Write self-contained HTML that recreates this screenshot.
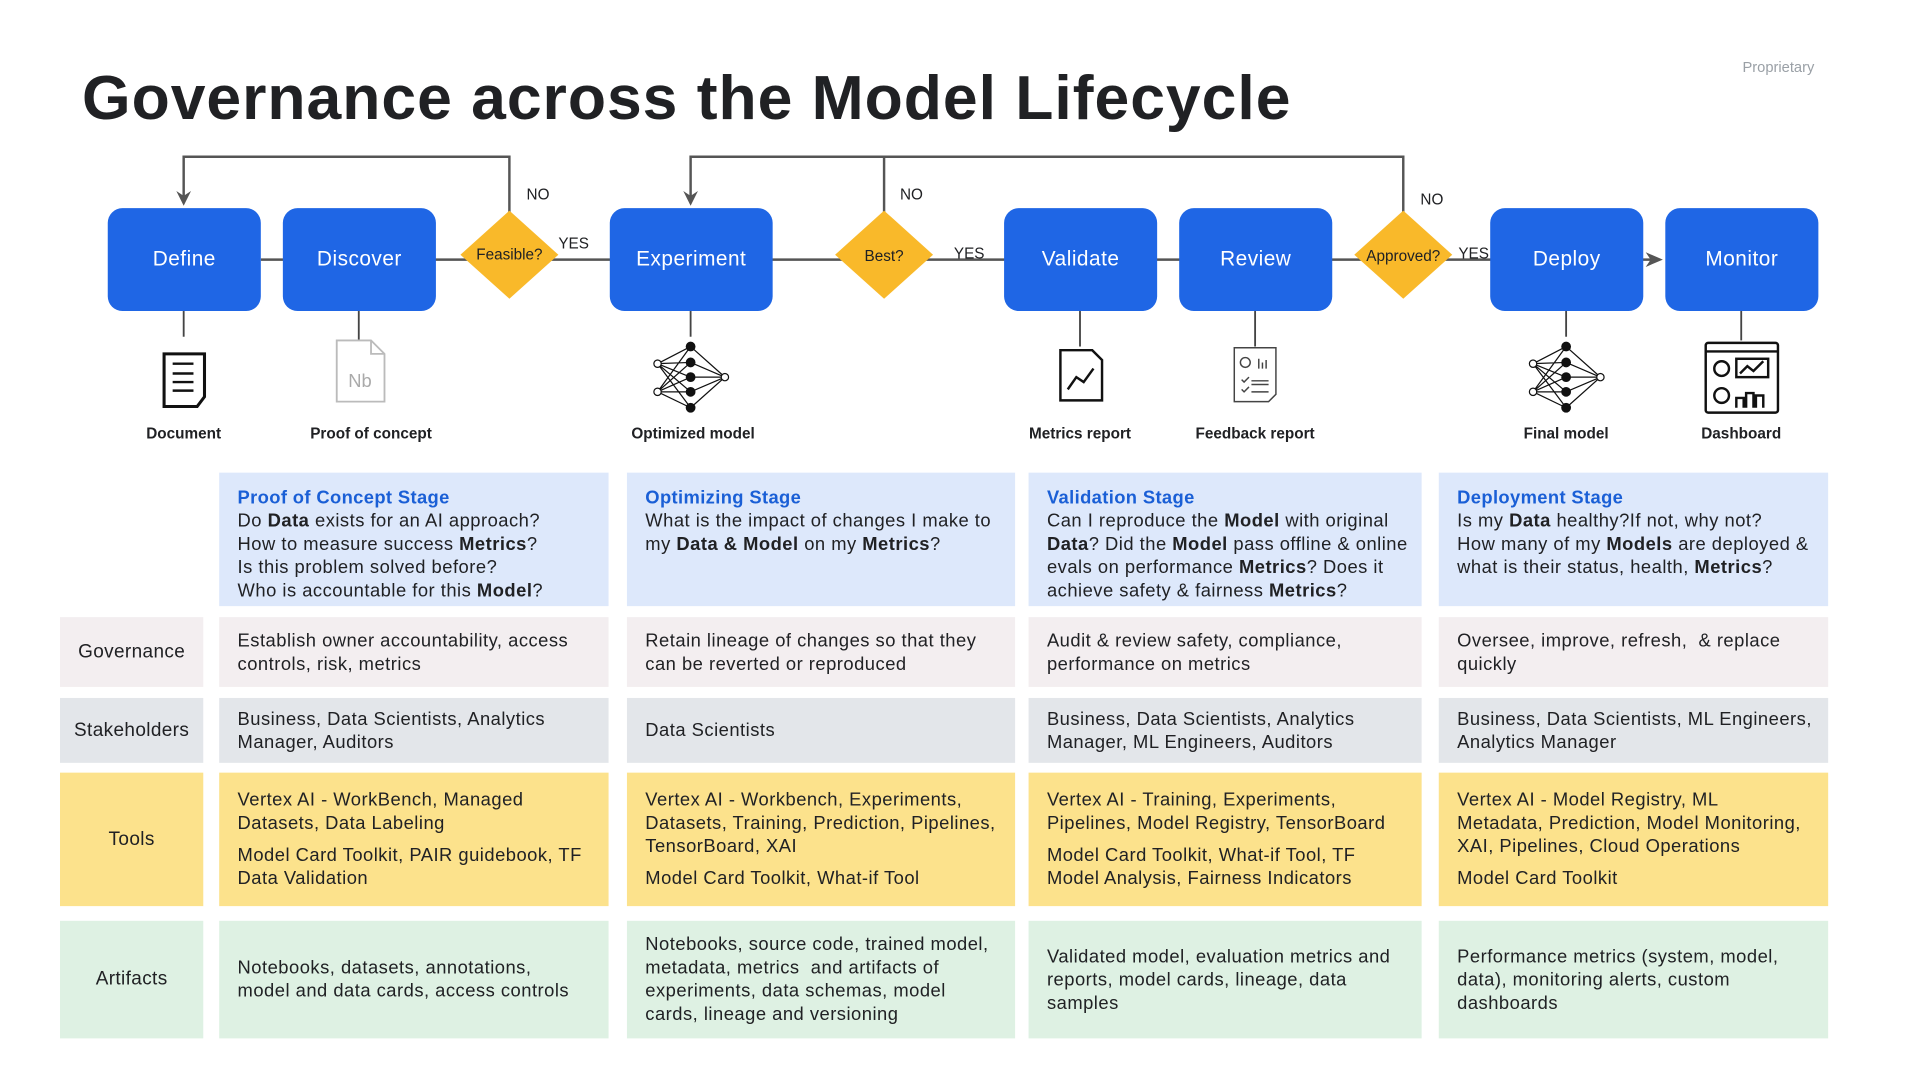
<!DOCTYPE html>
<html><head><meta charset="utf-8"><style>
html,body{margin:0;padding:0;background:#fff;}
body{width:1920px;height:1080px;overflow:hidden;position:relative;}
#w{position:absolute;left:0;top:0;width:1568px;height:882px;transform:scale(1.22449);transform-origin:0 0;font-family:"Liberation Sans",sans-serif;color:#202124;}
.a{position:absolute;}
.box{position:absolute;top:170px;height:84px;background:#1f66e5;border-radius:12px;color:#fff;font-size:17px;letter-spacing:0.4px;display:flex;align-items:center;justify-content:center;}
.lbl{position:absolute;top:347px;font-size:12.5px;font-weight:bold;text-align:center;width:140px;}
.cell{position:absolute;font-size:15px;line-height:19px;letter-spacing:0.4px;white-space:nowrap;padding:0 15px;box-sizing:border-box;display:flex;flex-direction:column;justify-content:center;}
.rl{position:absolute;left:49px;width:117px;font-size:15.5px;letter-spacing:0.3px;display:flex;align-items:center;justify-content:center;}
.h{background:#dde8fb;justify-content:flex-start;padding-top:11px;}
.h .t{color:#1a5fd6;font-weight:bold;letter-spacing:0.3px;}
.g{background:#f3eef0}.s{background:#e3e6ea}.y{background:#fce28c}.gr{background:#def1e3}
.sp{height:7px}
</style></head><body><div id="w">
<div class="a" style="left:67px;top:50px;font-size:51px;font-weight:bold;color:#202124;letter-spacing:0.8px">Governance across the Model Lifecycle</div>
<div class="a" style="left:1423px;top:48px;font-size:12px;color:#9aa0a6">Proprietary</div>

<svg class="a" style="left:0;top:0" width="1568" height="400">
<g stroke="#555" stroke-width="2" fill="none">
<polyline points="416,176 416,128 150,128 150,166"/>
<polyline points="1146,176 1146,128 564,128 564,166"/>
<line x1="722" y1="128" x2="722" y2="176"/>
<line x1="213" y1="212" x2="1352" y2="212"/>
</g>
<g fill="#555"><path d="M144,156 L150,168 L156,156 L150,160Z"/><path d="M558,156 L564,168 L570,156 L564,160Z"/><path d="M1344,206 L1358,212 L1344,218 L1348,212Z"/></g>
<g stroke="#444" stroke-width="1.5"><line x1="150" y1="254" x2="150" y2="275"/><line x1="293" y1="254" x2="293" y2="278"/><line x1="564" y1="254" x2="564" y2="275"/><line x1="882" y1="254" x2="882" y2="283"/><line x1="1025" y1="254" x2="1025" y2="283"/><line x1="1279" y1="254" x2="1279" y2="275"/><line x1="1422" y1="254" x2="1422" y2="278"/></g>
<g fill="#f9b92a"><polygon points="416,172 456,208 416,244 376,208"/><polygon points="722,172 762,208 722,244 682,208"/><polygon points="1146,172 1186,208 1146,244 1106,208"/></g>
<g font-family="Liberation Sans,sans-serif" font-size="12.5" fill="#202124">
<text x="416" y="212" text-anchor="middle">Feasible?</text><text x="722" y="213" text-anchor="middle">Best?</text><text x="1146" y="213" text-anchor="middle">Approved?</text>
<text x="430" y="163">NO</text><text x="735" y="163">NO</text><text x="1160" y="167">NO</text>
<text x="456" y="203">YES</text><text x="779" y="211">YES</text><text x="1191" y="211">YES</text>
</g>
<g stroke="#111" stroke-width="2.5" fill="none"><path d="M134,289 H167 V324 L161,332 H134Z"/><path d="M141,297h17M141,305h17M141,312h17M141,319h17" stroke-width="2"/></g>
<path d="M275,278 H303 L314,289 V328 H275Z M303,278 V289 H314" stroke="#bbb" stroke-width="1.5" fill="none"/>
<text x="294" y="316" font-family="Liberation Sans,sans-serif" font-size="15" fill="#aaa" text-anchor="middle">Nb</text>
<g id="net" stroke="#111" stroke-width="1" fill="#111">
<g fill="none"><path d="M537,297 L564,283 M537,297 L564,296 M537,297 L564,308 M537,297 L564,320 M537,297 L564,333 M537,320 L564,283 M537,320 L564,296 M537,320 L564,308 M537,320 L564,320 M537,320 L564,333 M564,283 L592,308 M564,296 L592,308 M564,308 L592,308 M564,320 L592,308 M564,333 L592,308"/></g>
<circle cx="564" cy="283" r="3.5"/><circle cx="564" cy="296" r="3.5"/><circle cx="564" cy="308" r="3.5"/><circle cx="564" cy="320" r="3.5"/><circle cx="564" cy="333" r="3.5"/>
<circle cx="537" cy="297" r="3" fill="#fff"/><circle cx="537" cy="320" r="3" fill="#fff"/><circle cx="592" cy="308" r="3" fill="#fff"/>
</g>
<use href="#net" x="715"/>
<g stroke="#111" stroke-width="2" fill="none"><path d="M866,286 H892 L900,294 V327 H866Z"/><path d="M872,318 L879,308 L885,312 L893,301"/></g>
<g stroke="#444" stroke-width="1.2" fill="none"><path d="M1008,284 H1042 V322 L1036,328 H1008Z"/><circle cx="1017" cy="296" r="4"/><path d="M1028,301v-8M1031,301v-5M1034,301v-7M1014,310l2,2 4,-4M1014,318l2,2 4,-4M1022,311h14M1022,314h14M1022,320h14"/></g>
<g stroke="#111" stroke-width="2" fill="none"><rect x="1393" y="280" width="59" height="57" rx="2"/><line x1="1393" y1="287" x2="1452" y2="287"/><circle cx="1406" cy="301" r="6"/><rect x="1418" y="293" width="26" height="15"/><path d="M1421,305l6,-6 5,4 8,-8"/><circle cx="1406" cy="323" r="6"/><path d="M1418,333v-8h6v8M1426,333v-12h6v12M1434,333v-10h6v10"/></g>
</svg>

<div class="box" style="left:88px;width:125px">Define</div>
<div class="box" style="left:231px;width:125px">Discover</div>
<div class="box" style="left:498px;width:133px">Experiment</div>
<div class="box" style="left:820px;width:125px">Validate</div>
<div class="box" style="left:963px;width:125px">Review</div>
<div class="box" style="left:1217px;width:125px">Deploy</div>
<div class="box" style="left:1360px;width:125px">Monitor</div>

<div class="lbl" style="left:80px">Document</div>
<div class="lbl" style="left:233px">Proof of concept</div>
<div class="lbl" style="left:496px">Optimized model</div>
<div class="lbl" style="left:812px">Metrics report</div>
<div class="lbl" style="left:955px">Feedback report</div>
<div class="lbl" style="left:1209px">Final model</div>
<div class="lbl" style="left:1352px">Dashboard</div>

<div class="cell h" style="left:179px;top:386px;width:318px;height:109px"><div class="t">Proof of Concept Stage</div><div>Do <b>Data</b> exists for an AI approach?<br>How to measure success <b>Metrics</b>?<br>Is this problem solved before?<br>Who is accountable for this <b>Model</b>?</div></div>
<div class="cell h" style="left:512px;top:386px;width:317px;height:109px"><div class="t">Optimizing Stage</div><div>What is the impact of changes I make to<br>my <b>Data &amp; Model</b> on my <b>Metrics</b>?</div></div>
<div class="cell h" style="left:840px;top:386px;width:321px;height:109px"><div class="t">Validation Stage</div><div>Can I reproduce the <b>Model</b> with original<br><b>Data</b>? Did the <b>Model</b> pass offline &amp; online<br>evals on performance <b>Metrics</b>? Does it<br>achieve safety &amp; fairness <b>Metrics</b>?</div></div>
<div class="cell h" style="left:1175px;top:386px;width:318px;height:109px"><div class="t">Deployment Stage</div><div>Is my <b>Data</b> healthy?If not, why not?<br>How many of my <b>Models</b> are deployed &amp;<br>what is their status, health, <b>Metrics</b>?</div></div>

<div class="rl g" style="top:504px;height:57px">Governance</div>
<div class="cell g" style="left:179px;top:504px;width:318px;height:57px">Establish owner accountability, access<br>controls, risk, metrics</div>
<div class="cell g" style="left:512px;top:504px;width:317px;height:57px">Retain lineage of changes so that they<br>can be reverted or reproduced</div>
<div class="cell g" style="left:840px;top:504px;width:321px;height:57px">Audit &amp; review safety, compliance,<br>performance on metrics</div>
<div class="cell g" style="left:1175px;top:504px;width:318px;height:57px">Oversee, improve, refresh,&nbsp; &amp; replace<br>quickly</div>

<div class="rl s" style="top:570px;height:53px">Stakeholders</div>
<div class="cell s" style="left:179px;top:570px;width:318px;height:53px">Business, Data Scientists, Analytics<br>Manager, Auditors</div>
<div class="cell s" style="left:512px;top:570px;width:317px;height:53px">Data Scientists</div>
<div class="cell s" style="left:840px;top:570px;width:321px;height:53px">Business, Data Scientists, Analytics<br>Manager, ML Engineers, Auditors</div>
<div class="cell s" style="left:1175px;top:570px;width:318px;height:53px">Business, Data Scientists, ML Engineers,<br>Analytics Manager</div>

<div class="rl y" style="top:631px;height:109px">Tools</div>
<div class="cell y" style="left:179px;top:631px;width:318px;height:109px"><div>Vertex AI - WorkBench, Managed<br>Datasets, Data Labeling</div><div class="sp"></div><div>Model Card Toolkit, PAIR guidebook, TF<br>Data Validation</div></div>
<div class="cell y" style="left:512px;top:631px;width:317px;height:109px"><div>Vertex AI - Workbench, Experiments,<br>Datasets, Training, Prediction, Pipelines,<br>TensorBoard, XAI</div><div class="sp"></div><div>Model Card Toolkit, What-if Tool</div></div>
<div class="cell y" style="left:840px;top:631px;width:321px;height:109px"><div>Vertex AI - Training, Experiments,<br>Pipelines, Model Registry, TensorBoard</div><div class="sp"></div><div>Model Card Toolkit, What-if Tool, TF<br>Model Analysis, Fairness Indicators</div></div>
<div class="cell y" style="left:1175px;top:631px;width:318px;height:109px"><div>Vertex AI - Model Registry, ML<br>Metadata, Prediction, Model Monitoring,<br>XAI, Pipelines, Cloud Operations</div><div class="sp"></div><div>Model Card Toolkit</div></div>

<div class="rl gr" style="top:752px;height:96px">Artifacts</div>
<div class="cell gr" style="left:179px;top:752px;width:318px;height:96px">Notebooks, datasets, annotations,<br>model and data cards, access controls</div>
<div class="cell gr" style="left:512px;top:752px;width:317px;height:96px">Notebooks, source code, trained model,<br>metadata, metrics&nbsp; and artifacts of<br>experiments, data schemas, model<br>cards, lineage and versioning</div>
<div class="cell gr" style="left:840px;top:752px;width:321px;height:96px">Validated model, evaluation metrics and<br>reports, model cards, lineage, data<br>samples</div>
<div class="cell gr" style="left:1175px;top:752px;width:318px;height:96px">Performance metrics (system, model,<br>data), monitoring alerts, custom<br>dashboards</div>
</div></body></html>
